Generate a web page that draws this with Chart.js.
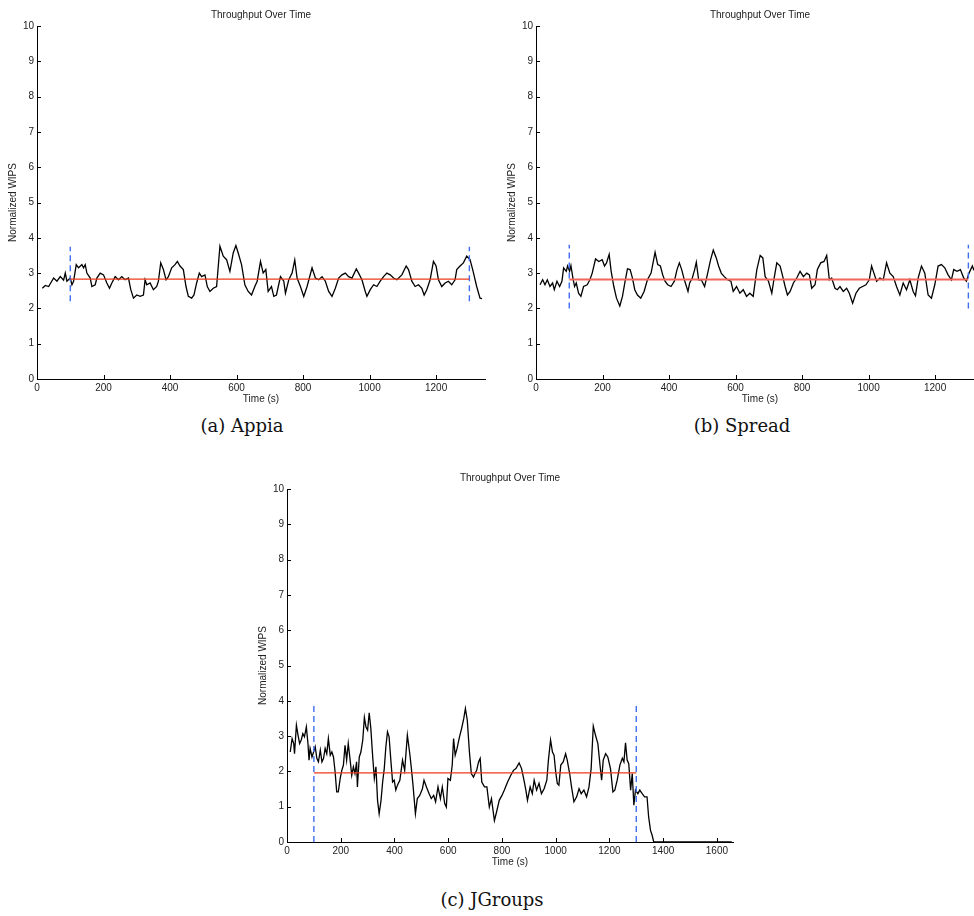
<!DOCTYPE html>
<html>
<head>
<meta charset="utf-8">
<title>Throughput Over Time</title>
<script src="https://cdn.jsdelivr.net/npm/chart.js@4.4.1/dist/chart.umd.min.js"></script>
<style>
  body { margin: 0; background: #fff; }
  #page { position: relative; width: 974px; height: 916px; overflow: hidden; background: #fff; }
  #page canvas { position: absolute; }
  .caption {
    position: absolute;
    font-family: "DejaVu Serif", "Liberation Serif", serif;
    font-size: 18px;
    line-height: 22px;
    color: #111;
    white-space: nowrap;
    transform: translateX(-50%);
  }
</style>
</head>
<body>
<div id="page">
  <canvas id="chartAppia" width="490" height="410" style="left:0px;top:0px"></canvas>
  <canvas id="chartSpread" width="490" height="410" style="left:499px;top:0px"></canvas>
  <canvas id="chartJGroups" width="488" height="410" style="left:250px;top:463px"></canvas>
  <div class="caption" style="left:242px;top:415px">(a) Appia</div>
  <div class="caption" style="left:742px;top:415px">(b) Spread</div>
  <div class="caption" style="left:492px;top:889px">(c) JGroups</div>
</div>

<script>
// --- Data ---
const yTicks = [0, 1, 2, 3, 4, 5, 6, 7, 8, 9, 10];
const xTicksShort = [0, 200, 400, 600, 800, 1000, 1200];
const xTicksLong = [0, 200, 400, 600, 800, 1000, 1200, 1400, 1600];

// measurement window (dashed markers) and mean line
const windowStart = 100;
const windowEnd = 1300;

const appiaTimes = [16,25,35,50,60,70,80,85,90,100,105,110,118,125,135,140,145,150,160,165,
  175,180,190,200,210,218,225,235,245,255,265,275,282,290,300,310,320,325,330,340,
  350,360,365,372,380,388,395,405,415,422,430,440,448,455,465,472,480,488,495,505,
  512,520,530,540,550,560,570,580,590,598,605,615,625,635,645,655,662,672,680,688,
  695,705,712,720,732,742,747,757,767,775,782,792,802,812,827,837,847,857,867,877,
  887,897,907,917,927,937,947,960,967,977,987,992,1002,1012,1022,1032,1042,1052,1062,1072,
  1082,1097,1110,1117,1127,1137,1147,1157,1164,1172,1182,1192,1200,1207,1217,1227,1237,1247,1257,1262,
  1272,1282,1292,1302,1310,1322,1332,1338];
const appiaValues = [2.57,2.65,2.62,2.86,2.77,2.9,2.8,3.0,2.77,2.86,2.67,2.77,3.24,3.15,3.24,3.15,3.24,3.0,2.86,2.62,
  2.67,2.86,3.0,2.95,2.72,2.57,2.72,2.9,2.81,2.9,2.81,2.86,2.53,2.29,2.38,2.34,2.38,2.81,2.67,2.72,
  2.53,2.62,2.77,3.29,3.1,2.81,2.9,3.15,3.24,3.33,3.2,3.1,2.62,2.34,2.29,2.38,2.72,3.0,2.9,2.95,
  2.62,2.48,2.57,2.62,3.76,3.48,3.38,3.05,3.57,3.78,3.57,3.24,2.67,2.48,2.38,2.62,2.77,3.33,3.0,3.1,
  2.48,2.62,2.34,2.38,2.9,2.77,2.43,2.81,3.0,3.37,2.86,2.62,2.34,2.62,3.15,2.86,2.81,2.9,2.77,2.48,
  2.34,2.57,2.86,2.95,3.0,2.9,2.86,3.12,3.0,2.81,2.48,2.34,2.53,2.67,2.62,2.77,2.9,3.0,2.95,2.86,
  2.81,2.95,3.2,3.1,2.77,2.62,2.67,2.57,2.38,2.53,2.81,3.33,3.2,2.81,2.62,2.72,2.77,2.67,2.81,3.1,
  3.2,3.29,3.48,3.38,3.1,2.62,2.29,2.28];
const appiaMean = 2.83;
const appiaMarker = [2.2, 3.75];

const spreadTimes = [12,20,27,34,42,50,55,63,71,78,83,91,95,101,105,111,116,121,128,135,
  143,154,162,169,179,189,199,206,212,220,226,234,242,252,260,267,275,283,290,297,
  305,315,325,335,346,358,366,374,381,388,396,406,416,424,431,438,446,457,462,470,
  477,482,489,497,507,515,525,533,542,549,557,566,576,586,593,603,613,623,633,643,
  653,664,674,682,689,699,709,716,724,734,742,749,756,764,774,784,794,804,814,822,
  829,839,846,856,866,874,882,889,899,906,914,924,934,942,952,962,972,982,992,1002,
  1009,1016,1024,1034,1044,1054,1064,1074,1084,1094,1104,1114,1124,1134,1141,1149,1159,1169,1179,1189,
  1199,1209,1219,1229,1239,1249,1256,1266,1276,1286,1294,1302,1312,1316,1322];
const spreadValues = [2.67,2.81,2.67,2.81,2.62,2.72,2.53,2.77,2.62,2.77,3.15,3.05,3.2,3.05,3.21,2.86,2.62,2.72,2.43,2.34,
  2.62,2.67,2.81,3.0,3.4,3.33,3.38,3.2,3.29,3.53,3.05,2.62,2.29,2.07,2.34,2.72,3.12,3.1,2.86,2.53,
  2.38,2.29,2.48,2.81,3.0,3.59,3.24,3.2,2.95,2.77,2.67,2.62,2.77,3.1,3.29,3.1,2.81,2.48,2.72,2.86,
  3.1,3.31,2.81,2.81,2.62,2.95,3.38,3.65,3.43,3.2,3.0,2.9,2.81,2.77,2.48,2.62,2.43,2.53,2.34,2.43,
  2.34,3.1,3.5,3.43,2.9,2.77,2.43,2.86,3.29,3.2,2.9,2.62,2.38,2.48,2.72,2.86,3.05,2.9,3.0,2.95,
  2.57,2.67,3.1,3.29,3.33,3.5,2.81,2.86,2.57,2.53,2.62,2.48,2.57,2.43,2.15,2.43,2.57,2.62,2.67,2.81,
  3.2,3.0,2.77,2.86,2.81,3.29,3.0,2.9,2.62,2.38,2.72,2.53,2.81,2.48,2.36,2.86,3.2,3.0,2.38,2.29,
  2.67,3.2,3.24,3.15,2.95,2.81,3.1,3.05,3.1,2.86,2.77,3.0,3.2,3.1,3.15];
const spreadMean = 2.82;
const spreadMarker = [2.0, 3.8];

const jgroupsTimes = [12,19,25,28,35,41,47,53,59,65,72,78,82,86,93,99,105,111,117,124,
  130,136,142,148,154,161,167,173,179,185,191,198,204,210,216,222,228,235,241,247,
  253,259,262,269,275,282,288,294,300,306,312,319,325,331,337,343,350,356,362,368,
  374,380,387,393,399,405,411,420,430,438,448,457,463,469,478,485,494,504,510,519,
  529,537,546,553,562,571,578,587,593,599,608,615,620,626,633,642,650,658,664,671,
  679,686,694,700,706,713,719,725,735,744,753,761,772,780,790,800,809,821,833,843,
  852,864,873,882,889,895,905,913,920,929,938,947,957,967,973,981,988,994,1000,1006,
  1012,1019,1028,1037,1043,1052,1059,1068,1078,1087,1095,1105,1115,1124,1132,1140,1148,1157,1165,1171,
  1177,1186,1194,1204,1213,1220,1229,1239,1248,1254,1260,1266,1272,1279,1285,1291,1297,1306,1313,1322,
  1331,1340,1346,1353,1359,1365,1655];
const jgroupsValues = [2.55,2.93,2.79,2.5,3.31,3.03,2.79,2.89,3.07,2.98,3.26,2.79,2.32,2.65,2.41,2.55,2.7,2.37,2.27,2.6,
  2.27,2.37,2.65,2.5,2.93,2.46,2.55,2.41,1.99,1.42,1.42,1.8,2.03,2.18,2.74,2.32,2.79,2.32,1.89,2.13,
  1.94,2.27,1.56,2.41,2.55,2.89,3.53,3.26,3.17,3.66,3.22,2.41,1.8,2.13,1.18,0.8,1.18,1.7,2.08,2.7,
  3.12,2.98,2.27,1.7,1.75,1.47,1.61,1.75,2.32,2.03,3.03,2.5,2.08,1.61,0.8,1.23,1.32,1.51,1.75,1.56,
  1.37,1.23,1.32,1.14,1.56,1.23,1.56,1.09,0.99,1.8,1.75,2.18,2.93,2.46,2.65,2.98,3.22,3.5,3.78,3.45,
  2.55,1.94,1.84,1.94,2.03,2.27,2.37,1.7,1.56,1.56,0.99,1.23,0.61,0.85,1.18,1.32,1.47,1.7,1.89,2.03,
  2.08,2.24,2.08,1.75,1.47,1.18,1.56,1.37,1.75,1.47,1.66,1.37,1.51,1.75,2.32,2.89,2.55,2.46,1.99,1.66,
  1.61,2.18,2.27,2.5,2.32,1.94,1.56,1.14,1.28,1.51,1.37,1.47,1.28,1.56,2.08,3.28,3.03,2.79,2.18,1.75,
  2.32,2.5,2.41,2.08,1.42,1.47,1.75,2.18,2.37,2.27,2.81,2.32,2.22,1.47,1.94,1.04,1.47,1.37,1.47,1.37,
  1.28,1.28,0.71,0.33,0.19,0,0];
const jgroupsMean = 1.96;
const jgroupsMarker = [0, 3.95];

// --- Shared styling ---
const axisFont = { family: '"Liberation Sans", Arial, sans-serif', size: 10, weight: 'normal' };
const textColor = '#222';
const markerBlue = '#3f6ff0';

function toPoints(times, values) {
  return times.map(function (t, i) { return { x: t, y: values[i] }; });
}

// MATLAB-style ticks pointing into the plot
const innerTicks = {
  id: 'innerTicks',
  afterDraw: function (chart) {
    const ctx = chart.ctx;
    const area = chart.chartArea;
    const sx = chart.scales.x;
    const sy = chart.scales.y;
    ctx.save();
    ctx.strokeStyle = '#000';
    ctx.lineWidth = 1;
    ctx.beginPath();
    sx.ticks.forEach(function (t) {
      const px = Math.round(sx.getPixelForValue(t.value)) + 0.5;
      ctx.moveTo(px, area.bottom);
      ctx.lineTo(px, area.bottom - 4);
    });
    sy.ticks.forEach(function (t) {
      const py = Math.round(sy.getPixelForValue(t.value)) + 0.5;
      ctx.moveTo(area.left, py);
      ctx.lineTo(area.left + 4, py);
    });
    ctx.stroke();
    ctx.restore();
  }
};

function buildChart(id, cfg) {
  const ctx = document.getElementById(id).getContext('2d');
  return new Chart(ctx, {
    type: 'line',
    data: {
      datasets: [
        {
          data: [{ x: windowStart, y: cfg.mean }, { x: windowEnd, y: cfg.mean }],
          borderColor: cfg.meanColor, borderWidth: cfg.meanWidth, pointRadius: 0
        },
        {
          data: [{ x: windowStart, y: cfg.marker[0] }, { x: windowStart, y: cfg.marker[1] }],
          borderColor: markerBlue, borderWidth: 1.4, borderDash: [6, 4], pointRadius: 0
        },
        {
          data: [{ x: windowEnd, y: cfg.marker[0] }, { x: windowEnd, y: cfg.marker[1] }],
          borderColor: markerBlue, borderWidth: 1.4, borderDash: [6, 4], pointRadius: 0
        },
        {
          data: toPoints(cfg.times, cfg.values),
          borderColor: '#000', borderWidth: 1.3, pointRadius: 0, tension: 0
        }
      ]
    },
    options: {
      responsive: false,
      animation: false,
      events: [],
      layout: { padding: { right: 5 } },
      plugins: {
        legend: { display: false },
        tooltip: { enabled: false },
        title: {
          display: true, fullSize: false, text: 'Throughput Over Time',
          font: axisFont, color: textColor, padding: { top: 9, bottom: 5 }
        }
      },
      scales: {
        x: {
          type: 'linear', min: 0, max: cfg.xMax,
          afterBuildTicks: function (s) { s.ticks = cfg.xTicks.map(function (v) { return { value: v }; }); },
          afterFit: function (s) { s.height = 31; },
          grid: { drawOnChartArea: false, drawTicks: false },
          border: { display: true, color: '#000', width: 1 },
          ticks: { padding: 3, font: axisFont, color: textColor, maxRotation: 0, autoSkip: false,
                   callback: function (v) { return String(v); } },
          title: { display: true, text: 'Time (s)', font: axisFont, color: textColor, padding: { top: 0, bottom: 5 } }
        },
        y: {
          type: 'linear', min: 0, max: 10,
          afterBuildTicks: function (s) { s.ticks = yTicks.map(function (v) { return { value: v }; }); },
          afterFit: function (s) { s.width = 37; },
          grid: { drawOnChartArea: false, drawTicks: false },
          border: { display: true, color: '#000', width: 1 },
          ticks: { padding: 3, font: axisFont, color: textColor, autoSkip: false,
                   callback: function (v) { return String(v); } },
          title: { display: true, text: 'Normalized WIPS', font: axisFont, color: textColor, padding: { top: 7, bottom: 0 } }
        }
      }
    },
    plugins: [innerTicks]
  });
}

// --- Charts ---
buildChart('chartAppia', {
  times: appiaTimes, values: appiaValues, mean: appiaMean, marker: appiaMarker,
  meanColor: '#ee3a1c', meanWidth: 1.3, xMax: 1347, xTicks: xTicksShort
});

buildChart('chartSpread', {
  times: spreadTimes, values: spreadValues, mean: spreadMean, marker: spreadMarker,
  meanColor: '#f0675a', meanWidth: 2, xMax: 1347, xTicks: xTicksShort
});

buildChart('chartJGroups', {
  times: jgroupsTimes, values: jgroupsValues, mean: jgroupsMean, marker: jgroupsMarker,
  meanColor: '#ee3a1c', meanWidth: 1.3, xMax: 1660, xTicks: xTicksLong
});
</script>
</body>
</html>
